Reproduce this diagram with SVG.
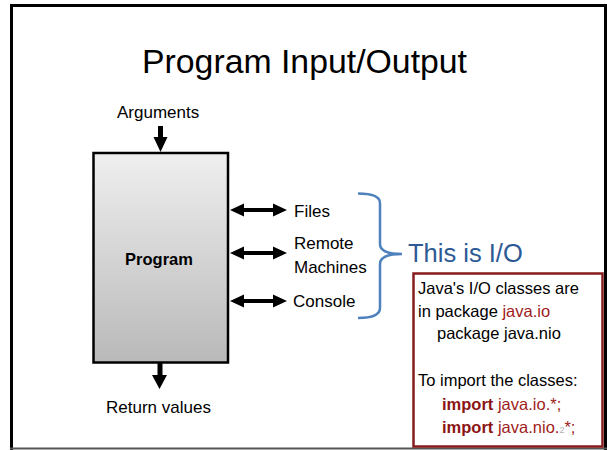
<svg xmlns="http://www.w3.org/2000/svg" width="607" height="450" viewBox="0 0 607 450">
<defs>
<linearGradient id="boxGrad" x1="0" y1="0" x2="0" y2="1">
<stop offset="0" stop-color="#efefef"/>
<stop offset="1" stop-color="#b9b9b9"/>
</linearGradient>
</defs>
<style>
text{font-family:"Liberation Sans",Arial,sans-serif;fill:#000}
.lbl{font-size:17px}
.box{font-size:16.5px}
.red{fill:#a01c1c}
.imp{fill:#8b1515;font-weight:bold}
.arrow{fill:#000;stroke:none}
</style>
<rect x="0" y="0" width="607" height="450" fill="#fff"/>
<g id="frame">
<line x1="10" y1="5.5" x2="607" y2="5.5" stroke="#000" stroke-width="3"/>
<line x1="11.5" y1="4" x2="11.5" y2="450" stroke="#000" stroke-width="3"/>
<line x1="605.5" y1="4" x2="605.5" y2="450" stroke="#000" stroke-width="3"/>
<line x1="10" y1="448.5" x2="607" y2="448.5" stroke="#555" stroke-width="2"/>
</g>
<g id="title">
<text x="304.5" y="73" font-size="33.8" text-anchor="middle">Program Input/Output</text>
</g>
<g id="arguments">
<text class="lbl" x="117" y="118">Arguments</text>
</g>
<g id="program">
<rect x="93.5" y="153" width="134.5" height="209.5" fill="url(#boxGrad)" stroke="#000" stroke-width="2.5"/>
<text x="159" y="265" font-size="16.5" font-weight="bold" text-anchor="middle">Program</text>
</g>
<g id="files"><text class="lbl" x="294" y="217">Files</text></g>
<g id="remote"><text class="lbl" x="294" y="249">Remote</text><text class="lbl" x="294" y="273">Machines</text></g>
<g id="console"><text class="lbl" x="293" y="307">Console</text></g>
<g id="return"><text class="lbl" x="106" y="413">Return values</text></g>
<g id="connectors">
<polygon class="arrow" points="158,126 163,126 163,137 167.5,137 160.5,152 153.5,137 158,137"/>
<polygon class="arrow" points="157.5,363 162.5,363 162.5,375 167,375 159.5,389 152,375 157.5,375"/>
<polygon class="arrow" points="230,210 244,203.5 244,208 273,208 273,203.5 287,210 273,216.5 273,212 244,212 244,216.5"/>
<polygon class="arrow" points="230,253 244,246.5 244,251 273,251 273,246.5 287,253 273,259.5 273,255 244,255 244,259.5"/>
<polygon class="arrow" points="230,301 244,294.5 244,299 273,299 273,294.5 287,301 273,307.5 273,303 244,303 244,307.5"/>
<path d="M358,193.5 Q380,193.5 380,203 L380,244 Q380,254 402,254 Q380,254 380,264 L380,308 Q380,318 358,318" fill="none" stroke="#4f81bd" stroke-width="2.5"/>
</g>
<g id="io">
<text x="408" y="262" font-size="25.5" style="fill:#2e5a94">This is I/O</text>
</g>
<g id="note">
<rect x="413.5" y="273.5" width="189" height="173" fill="#fff" stroke="#861c1c" stroke-width="2.5"/>
<text class="box" x="418" y="294">Java's I/O classes are</text>
<text class="box" x="418" y="317">in package <tspan class="red">java.io</tspan></text>
<text class="box" x="437" y="339">package java.nio</text>
<text class="box" x="418" y="386">To import the classes:</text>
<text class="box" x="442" y="410"><tspan class="imp">import</tspan> <tspan class="red">java.io.*;</tspan></text>
<text class="box" x="442" y="433"><tspan class="imp">import</tspan> <tspan class="red">java.nio.</tspan><tspan font-size="9" style="fill:#b0b0b0">2</tspan><tspan class="red">*;</tspan></text>
</g>
</svg>
